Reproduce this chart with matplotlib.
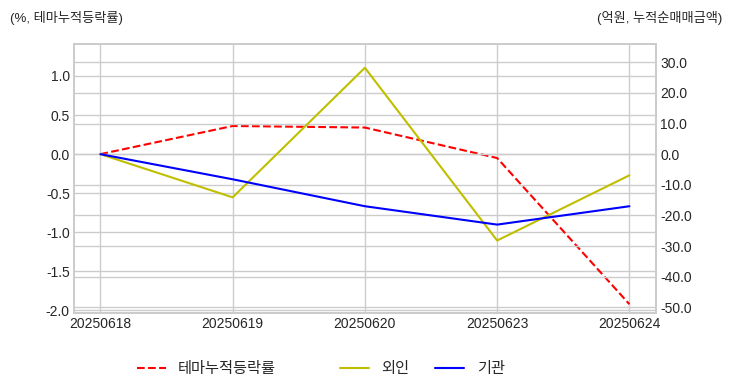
import matplotlib
matplotlib.use("Agg")
import matplotlib.pyplot as plt

dates = ["20250618", "20250619", "20250620", "20250623", "20250624"]
themeReturn = [0.0, 0.36, 0.34, -0.05, -1.92]
foreignNet = [0.0, -14.1, 28.2, -28.2, -6.9]
institutionNet = [0.0, -8.2, -17.0, -23.0, -17.0]

plt.style.use("seaborn-v0_8-whitegrid")
plt.rcParams['font.family'] = ['Liberation Sans', 'Noto Sans CJK KR', 'DejaVu Sans']
plt.rcParams['axes.unicode_minus'] = False

fig = plt.figure(figsize=(7.32, 3.92), dpi=100)
ax1 = fig.add_axes([0.101, 0.202, 0.795, 0.686])
ax2 = ax1.twinx()

xs = range(len(dates))
l1, = ax1.plot(xs, themeReturn, color='r', linestyle='--', linewidth=1.5, label='테마누적등락률')
l2, = ax2.plot(xs, foreignNet, color='y', linewidth=1.5, label='외인')
l3, = ax2.plot(xs, institutionNet, color='b', linewidth=1.5, label='기관')

ax1.set_xlim(-0.2, 4.2)
ax1.set_xticks(list(xs))
ax1.set_xticklabels(dates)
ax1.set_ylim(-2.03, 1.41)
leftTicks = [-2.0, -1.5, -1.0, -0.5, 0.0, 0.5, 1.0]
ax1.set_yticks(leftTicks)
ax1.set_yticklabels(["%.1f" % v for v in leftTicks])
ax2.set_ylim(-51.8, 36.0)
rightTicks = list(range(-50, 31, 10))
ax2.set_yticks(rightTicks)
ax2.set_yticklabels(["%.1f" % v for v in rightTicks])

for ax in (ax1, ax2):
    ax.tick_params(labelsize=10, colors='#262626', length=0, pad=3)
    for spine in ax.spines.values():
        spine.set_color('#cccccc')
        spine.set_linewidth(1.25)
ax2.grid(True, color='#cccccc', linewidth=1)
ax1.grid(True, color='#cccccc', linewidth=1)

fig.text(0.013, 0.955, "(%, 테마누적등락률)", fontsize=9.5, color='#262626', ha='left', va='center')
fig.text(0.987, 0.955, "(억원, 누적순매매금액)", fontsize=9.5, color='#262626', ha='right', va='center')

leg1 = fig.legend([l1], ['테마누적등락률'], loc='center', bbox_to_anchor=(0.282, 0.058),
                  frameon=False, fontsize=11, handlelength=1.9)
leg2 = fig.legend([l2, l3], ['외인', '기관'], loc='center', bbox_to_anchor=(0.577, 0.058), ncol=2,
                  frameon=False, fontsize=11, handlelength=1.9, columnspacing=1.7)

fig.savefig("out.png", dpi=100)
